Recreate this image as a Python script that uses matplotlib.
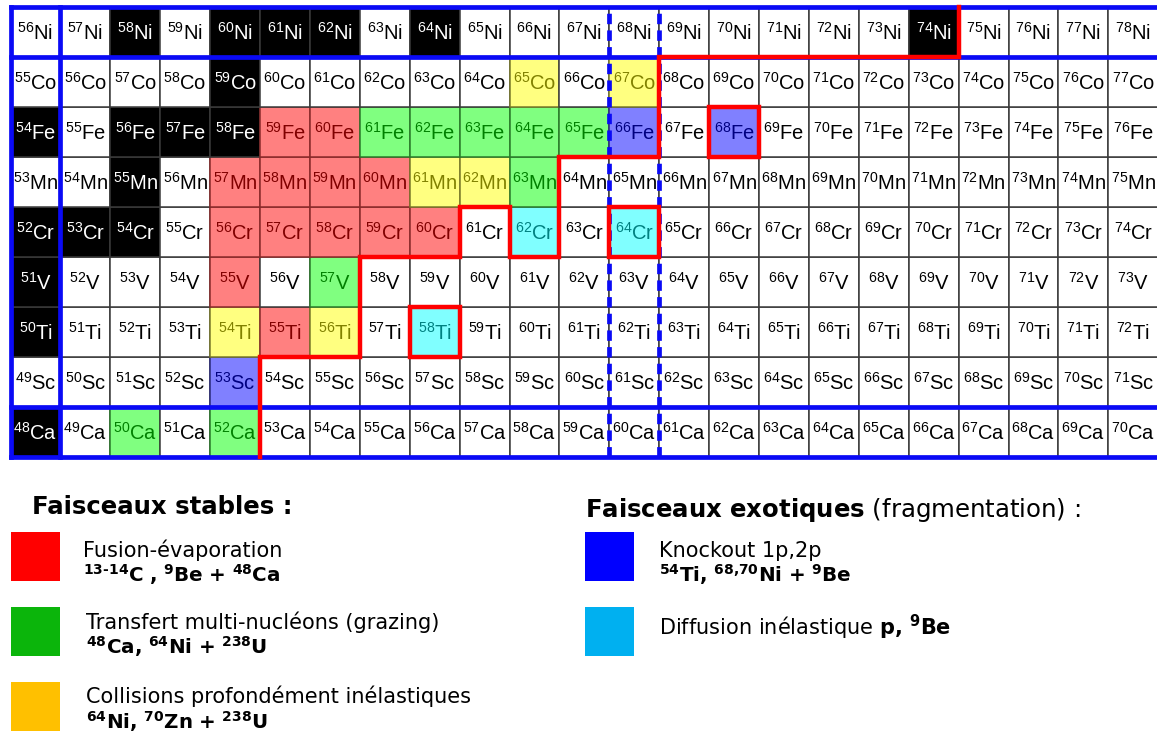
import matplotlib
matplotlib.use('Agg')
import matplotlib.pyplot as plt
from matplotlib.patches import Rectangle

plt.rcParams['mathtext.fontset'] = 'custom'
plt.rcParams['mathtext.rm'] = 'Liberation Sans'
plt.rcParams['mathtext.it'] = 'Liberation Sans:italic'
plt.rcParams['mathtext.bf'] = 'Liberation Sans:bold'
plt.rcParams['lines.scale_dashes'] = False
plt.rcParams['font.family'] = ['DejaVu Sans']

# ---------------- data ----------------
elements = ['Ca', 'Sc', 'Ti', 'V', 'Cr', 'Mn', 'Fe', 'Co', 'Ni']
z_values = [20, 21, 22, 23, 24, 25, 26, 27, 28]
n_values = list(range(28, 51))

stable = {'Ni': [58, 60, 61, 62, 64, 74], 'Co': [59], 'Fe': [54, 56, 57, 58],
          'Mn': [55], 'Cr': [52, 53, 54], 'V': [51], 'Ti': [50], 'Ca': [48]}
fusion_evap = {'Fe': [59, 60], 'Mn': [57, 58, 59, 60], 'Cr': [56, 57, 58, 59, 60],
               'V': [55], 'Ti': [55]}
transfer = {'Fe': [61, 62, 63, 64, 65], 'Mn': [63], 'V': [57], 'Ca': [50, 52]}
deep_inelastic = {'Co': [65, 67], 'Mn': [61, 62], 'Ti': [54, 56]}
knockout = {'Fe': [66, 68], 'Sc': [53]}
inelastic = {'Cr': [62, 64], 'Ti': [58]}
boxed = [('Fe', 68), ('Cr', 64), ('Ti', 58)]

magic_n = [28]
magic_z = [20, 28]
subshell_n = [40]

limit_n = [32.5, 32.5, 34.5, 34.5, 36.5, 36.5, 37.5, 37.5, 38.5, 38.5, 40.5, 40.5, 46.5, 46.5]
limit_z = [19.5, 21.5, 21.5, 23.5, 23.5, 24.5, 24.5, 23.5, 23.5, 25.5, 25.5, 27.5, 27.5, 28.5]

# ---------------- styles ----------------
styles = {
    'none':   dict(fc='white',   tc='black',   ec='#3a3a3a'),
    'stable': dict(fc='black',   tc='white',   ec='#3a3a3a'),
    'fusion': dict(fc='#FF8080', tc='#800000', ec='#8a2a2a'),
    'transf': dict(fc='#80FF80', tc='#008000', ec='#2a7a2a'),
    'deep':   dict(fc='#FFFF80', tc='#808000', ec='#7a7a2a'),
    'ko':     dict(fc='#8080FF', tc='#000080', ec='#2a2a7a'),
    'inel':   dict(fc='#80FFFF', tc='#008080', ec='#2a7a7a'),
}
cats = [('stable', stable), ('fusion', fusion_evap), ('transf', transfer),
        ('deep', deep_inelastic), ('ko', knockout), ('inel', inelastic)]

W, H = 1157, 733
fig = plt.figure(figsize=(W / 100, H / 100), dpi=100)

# legend / background axes in pixel coordinates
ax2 = fig.add_axes([0, 0, 1, 1])
ax2.set_xlim(0, W)
ax2.set_ylim(H, 0)
ax2.axis('off')

# grid axes
cw = 49.9
gx0, gy0, gy1 = 10.5, 7, 457
ax = fig.add_axes([gx0 / W, (H - gy1) / H, len(n_values) * cw / W, (gy1 - gy0) / H])
ax.set_xlim(n_values[0] - 0.5, n_values[-1] + 0.5)
ax.set_ylim(z_values[0] - 0.5, z_values[-1] + 0.5)
ax.axis('off')

blue = '#0A0AF5'
red = '#FF0000'

for sym, z in zip(elements, z_values):
    for n in n_values:
        a = z + n
        cat = 'none'
        for name, d in cats:
            if a in d.get(sym, []):
                cat = name
        st = styles[cat]
        ax.add_patch(Rectangle((n - 0.5, z - 0.5), 1, 1, facecolor=st['fc'],
                               edgecolor=st['ec'], lw=1.1, zorder=1))
        ax.text(n, z - 0.02, f"$^{{{a}}}$" + sym, ha='center', va='center',
                fontsize=14.5, family='Liberation Sans', color=st['tc'], zorder=3)

lw_thick = 3.4
xmin, xmax = n_values[0] - 0.5, n_values[-1] + 0.5
ymin, ymax = z_values[0] - 0.5, z_values[-1] + 0.5
for n in magic_n:
    for x in (n - 0.5, n + 0.5):
        ax.plot([x, x], [ymin, ymax], color=blue, lw=lw_thick, zorder=4, clip_on=False,
                solid_capstyle='projecting')
for z in magic_z:
    for y in (z - 0.5, z + 0.5):
        ax.plot([xmin, xmax + 1], [y, y], color=blue, lw=lw_thick, zorder=4, clip_on=False,
                solid_capstyle='projecting')
for n in subshell_n:
    for x in (n - 0.5, n + 0.5):
        ax.plot([x, x], [ymin, ymax], color=blue, lw=lw_thick, zorder=4, clip_on=False,
                linestyle=(0, (7.5, 4.5)))

ax.plot(limit_n, limit_z, color=red, lw=3.2, zorder=6, clip_on=False,
        solid_joinstyle='miter', solid_capstyle='projecting')
for sym, a in boxed:
    z = z_values[elements.index(sym)]
    n = a - z
    ax.add_patch(Rectangle((n - 0.5, z - 0.5), 1, 1, fill=False, edgecolor=red,
                           lw=3.2, zorder=6, joinstyle='miter'))

# ---------------- legend ----------------
leg_squares = [
    (11, 532, '#FF0000'), (11, 607, '#0BB50B'), (11, 682, '#FFC000'),
    (585, 532, '#0000FF'), (585, 607, '#00B0F0'),
]
for x, y, c in leg_squares:
    ax2.add_patch(Rectangle((x, y), 49, 49, color=c, lw=0))

fs_t, fs_b, fs_bb = 17.6, 15, 14.3
ax2.text(32, 514, "Faisceaux stables :", fontsize=fs_t, fontweight='bold', va='baseline')
ax2.text(83, 557, "Fusion-évaporation", fontsize=fs_b, va='baseline')
ax2.text(83, 582, r"$\mathbf{^{13‐14}C\ {,}\ ^{9}Be\ {+}\ ^{48}Ca}$", fontsize=fs_bb,
         va='baseline', math_fontfamily='dejavusans')
ax2.text(86, 629, "Transfert multi-nucléons (grazing)", fontsize=fs_b, va='baseline')
ax2.text(86, 654, r"$\mathbf{^{48}Ca{,}\ ^{64}Ni\ {+}\ ^{238}U}$", fontsize=fs_bb,
         va='baseline', math_fontfamily='dejavusans')
ax2.text(86, 703, "Collisions profondément inélastiques", fontsize=fs_b, va='baseline')
ax2.text(86, 729, r"$\mathbf{^{64}Ni{,}\ ^{70}Zn\ {+}\ ^{238}U}$", fontsize=fs_bb,
         va='baseline', math_fontfamily='dejavusans')

ax2.text(585, 517, r"$\mathbf{Faisceaux\ exotiques}$ (fragmentation) :", fontsize=fs_t,
         va='baseline', math_fontfamily='dejavusans')
ax2.text(659, 557, "Knockout 1p,2p", fontsize=fs_b, va='baseline')
ax2.text(659, 582, r"$\mathbf{^{54}Ti{,}\ ^{68{,}70}Ni\ {+}\ ^{9}Be}$", fontsize=fs_bb,
         va='baseline', math_fontfamily='dejavusans')
ax2.text(659, 635, r"Diffusion inélastique $\mathbf{p{,}\ ^{9}Be}$", fontsize=fs_b,
         va='baseline', math_fontfamily='dejavusans')

fig.savefig('out.png', dpi=100)
